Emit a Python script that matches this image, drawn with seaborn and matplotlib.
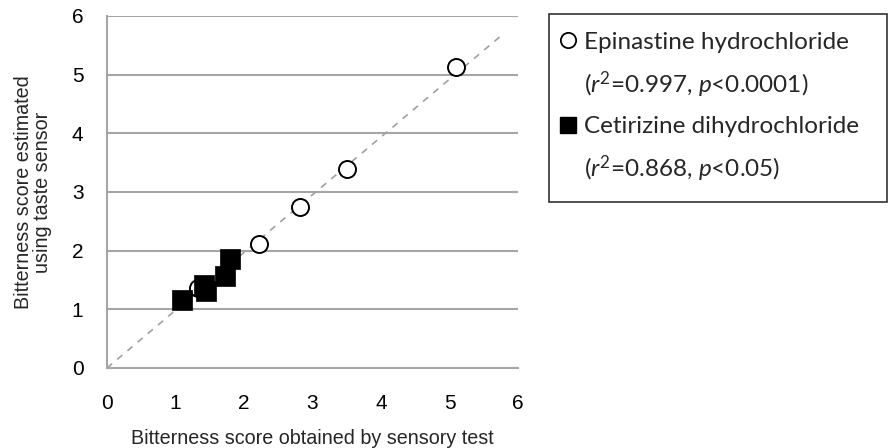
import matplotlib
matplotlib.use("Agg")
import matplotlib.pyplot as plt
import seaborn as sns
import pandas as pd
from matplotlib.lines import Line2D

# Data
epi_sensory = [1.33, 2.22, 2.82, 3.51, 5.10]
epi_sensor = [1.37, 2.11, 2.75, 3.39, 5.13]
cet_sensory = [1.10, 1.42, 1.45, 1.72, 1.80]
cet_sensor = [1.16, 1.41, 1.32, 1.56, 1.86]
line_x = [0.0, 5.75]
line_y = [0.0, 5.66]
ticks = [0, 1, 2, 3, 4, 5, 6]
labels = ["Epinastine hydrochloride", "($r^2$=0.997, $p$<0.0001)",
          "Cetirizine dihydrochloride", "($r^2$=0.868, $p$<0.05)"]

sns.set_style("white")
plt.rcParams['font.family'] = ['Liberation Sans', 'DejaVu Sans']
plt.rcParams['mathtext.fontset'] = 'custom'
plt.rcParams['mathtext.it'] = 'Lato:italic'
plt.rcParams['mathtext.rm'] = 'Lato'

fig = plt.figure(figsize=(8.88, 4.48), dpi=100)
ax = fig.add_axes([0.1205, 0.1786, 0.4628, 0.7857])

grey = "#a6a6a6"
ax.plot(line_x, line_y, ls=(0, (4, 4)), color="#a0a0a0", lw=1.2, zorder=2)

df_e = pd.DataFrame({"x": epi_sensory, "y": epi_sensor})
df_c = pd.DataFrame({"x": cet_sensory, "y": cet_sensor})
sns.scatterplot(data=df_e, x="x", y="y", ax=ax, marker="o", s=150,
                facecolor="white", edgecolor="black", linewidth=1.4, zorder=3)
sns.scatterplot(data=df_c, x="x", y="y", ax=ax, marker="s", s=190,
                color="black", edgecolor="black", linewidth=0.5, zorder=4)

ax.set_xlim(0, 6)
ax.set_ylim(0, 6)
ax.set_xticks(ticks)
ax.set_yticks(ticks)
ax.yaxis.grid(True, color=grey, lw=1.5)
ax.xaxis.grid(False)
for s in ["top", "right"]:
    ax.spines[s].set_visible(False)
for s in ["left", "bottom"]:
    ax.spines[s].set_color(grey)
    ax.spines[s].set_linewidth(1.5)
ax.tick_params(axis="both", direction="out", length=6, width=1.5, color=grey,
               labelsize=15, labelcolor="black")
ax.tick_params(axis="x", pad=13)
ax.tick_params(axis="y", pad=11)
ax.set_xlabel("Bitterness score obtained by sensory test", fontsize=14.2, labelpad=11)
ax.set_ylabel("Bitterness score estimated\nusing taste sensor", fontsize=14.2,
              labelpad=14, linespacing=1.0)

blank = Line2D([], [], linestyle="none", marker=None)
h1 = Line2D([], [], linestyle="none", marker="o", markersize=11,
            markerfacecolor="white", markeredgecolor="black", markeredgewidth=1.3)
h2 = Line2D([], [], linestyle="none", marker="s", markersize=11,
            markerfacecolor="black", markeredgecolor="black")
bx0 = 549 / 888
by1 = 1 - 14 / 448
bw = (887 - 549) / 888
bh = 186 / 448
leg = fig.legend([h1, blank, h2, blank], labels,
                 loc="upper left", bbox_to_anchor=(bx0, by1 - bh, bw, bh),
                 bbox_transform=fig.transFigure, mode="expand",
                 frameon=True, fancybox=False, edgecolor="black",
                 prop={"family": "Lato", "size": 17.5},
                 labelspacing=0.68, handlelength=0.1, handletextpad=0.6,
                 borderpad=0.72, borderaxespad=0)
leg.get_frame().set_linewidth(1.2)

fig.savefig("out.png", dpi=100)
